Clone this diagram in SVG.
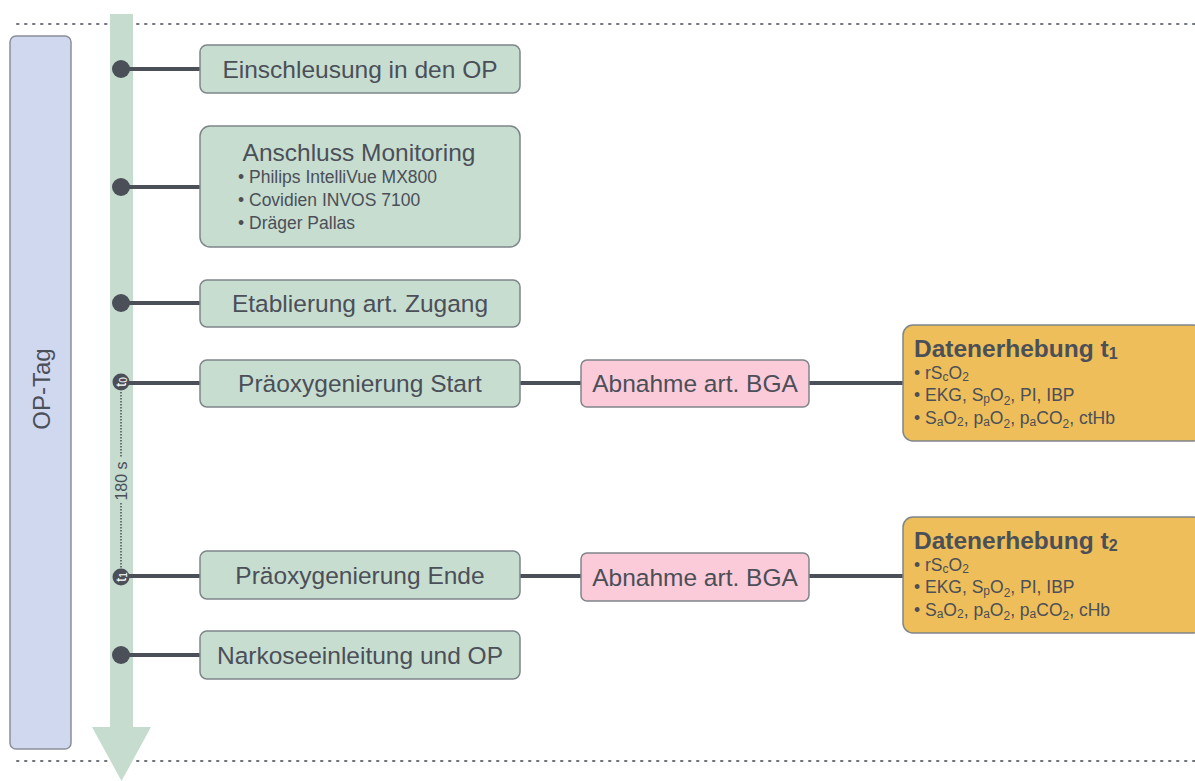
<svg xmlns="http://www.w3.org/2000/svg" width="1195" height="781" viewBox="0 0 1195 781">
<style>
text{font-family:"Liberation Sans",Arial,sans-serif;fill:#4b4f58}
.g{fill:#c7ddd0;stroke:#7d8589;stroke-width:1.5}
.p{fill:#fccbd9;stroke:#7d8589;stroke-width:1.5}
.o{fill:#eebe5a;stroke:#7d8589;stroke-width:1.5}
.t{font-size:24.5px;text-anchor:middle}
.b{font-size:17.5px}
.h{font-size:24.5px;font-weight:bold}
.c{stroke:#4b4f58;stroke-width:4;fill:none}
.dot{fill:#4b4f58}
.s{font-size:12px}
</style>
<line x1="17" y1="24" x2="1195" y2="24" stroke="#6f747c" stroke-width="2" stroke-dasharray="1.5 6.5" stroke-linecap="round"/>
<line x1="17" y1="761" x2="1195" y2="761" stroke="#6f747c" stroke-width="2" stroke-dasharray="1.5 6.5" stroke-linecap="round"/>
<g id="optag">
<rect x="10" y="36" width="61" height="713" rx="6" fill="#d0d8ef" stroke="#8a8f9a" stroke-width="1.5"/>
<text transform="translate(50,389) rotate(-90)" font-size="24" text-anchor="middle">OP-Tag</text>
</g>
<g id="timeline">
<path d="M110,14 H133 V727 H151 L121.5,781 L92,727 H110 Z" fill="#c6dccf"/>
<line x1="121" y1="392" x2="121" y2="458" stroke="#4b4f58" stroke-width="1.5" stroke-dasharray="1.5 1.5"/>
<line x1="121" y1="503" x2="121" y2="568" stroke="#4b4f58" stroke-width="1.5" stroke-dasharray="1.5 1.5"/>
<text transform="translate(126.5,481) rotate(-90)" font-size="16" text-anchor="middle">180 s</text>
</g>
<g id="connectors">
<line class="c" x1="121" y1="69" x2="200" y2="69"/>
<line class="c" x1="121" y1="187" x2="200" y2="187"/>
<line class="c" x1="121" y1="303" x2="200" y2="303"/>
<line class="c" x1="121" y1="383" x2="200" y2="383"/>
<line class="c" x1="121" y1="576" x2="200" y2="576"/>
<line class="c" x1="121" y1="655" x2="200" y2="655"/>
<line class="c" x1="520" y1="383" x2="581" y2="383"/>
<line class="c" x1="809" y1="383" x2="903" y2="383"/>
<line class="c" x1="520" y1="576" x2="581" y2="576"/>
<line class="c" x1="809" y1="576" x2="903" y2="576"/>
<circle class="dot" cx="121" cy="69" r="9"/>
<circle class="dot" cx="121" cy="187" r="9"/>
<circle class="dot" cx="121" cy="303" r="9"/>
<circle class="dot" cx="121" cy="382" r="8.5"/>
<circle class="dot" cx="121" cy="577" r="8.5"/>
<circle class="dot" cx="121" cy="655" r="9"/>
<text transform="translate(125.5,382) rotate(-90)" font-size="14" text-anchor="middle" style="fill:#fff">t<tspan font-size="10" dy="1">0</tspan></text>
<text transform="translate(125.5,577) rotate(-90)" font-size="14" text-anchor="middle" style="fill:#fff">t<tspan font-size="10" dy="1">1</tspan></text>
</g>
<g id="n1"><rect class="g" x="200" y="45" width="320" height="48" rx="7"/><text class="t" x="360" y="78">Einschleusung in den OP</text></g>
<g id="n2"><rect class="g" x="200" y="126" width="320" height="121" rx="10"/>
<text class="t" x="359" y="161">Anschluss Monitoring</text>
<text class="b" x="238" y="183">• Philips IntelliVue MX800</text>
<text class="b" x="238" y="206">• Covidien INVOS 7100</text>
<text class="b" x="238" y="229">• Dräger Pallas</text></g>
<g id="n3"><rect class="g" x="200" y="280" width="320" height="47" rx="7"/><text class="t" x="360" y="312">Etablierung art. Zugang</text></g>
<g id="n4"><rect class="g" x="200" y="360" width="320" height="47" rx="7"/><text class="t" x="360" y="392">Präoxygenierung Start</text></g>
<g id="n5"><rect class="g" x="200" y="551" width="320" height="48" rx="7"/><text class="t" x="360" y="584">Präoxygenierung Ende</text></g>
<g id="n6"><rect class="g" x="200" y="631" width="320" height="48" rx="7"/><text class="t" x="360" y="664">Narkoseeinleitung und OP</text></g>
<g id="p1"><rect class="p" x="581" y="360" width="228" height="47" rx="6"/><text class="t" x="695" y="392">Abnahme art. BGA</text></g>
<g id="p2"><rect class="p" x="581" y="553" width="228" height="48" rx="6"/><text class="t" x="695" y="586">Abnahme art. BGA</text></g>
<g id="d1"><rect class="o" x="903" y="325" width="300" height="116" rx="10"/>
<text class="h" x="914" y="357">Datenerhebung t<tspan font-size="16" dy="2">1</tspan></text>
<text class="b" x="914" y="379">• rS<tspan class="s" dy="2">c</tspan><tspan dy="-2">O</tspan><tspan class="s" dy="2">2</tspan></text>
<text class="b" x="914" y="401">• EKG, S<tspan class="s" dy="2">p</tspan><tspan dy="-2">O</tspan><tspan class="s" dy="4">2</tspan><tspan dy="-4">, PI, IBP</tspan></text>
<text class="b" x="914" y="424">• S<tspan class="s" dy="2">a</tspan><tspan dy="-2">O</tspan><tspan class="s" dy="2">2</tspan><tspan dy="-2">, p</tspan><tspan class="s" dy="2">a</tspan><tspan dy="-2">O</tspan><tspan class="s" dy="4">2</tspan><tspan dy="-4">, p</tspan><tspan class="s" dy="2">a</tspan><tspan dy="-2">CO</tspan><tspan class="s" dy="4">2</tspan><tspan dy="-4">, ctHb</tspan></text></g>
<g id="d2"><rect class="o" x="903" y="517" width="300" height="116" rx="10"/>
<text class="h" x="914" y="549">Datenerhebung t<tspan font-size="16" dy="2">2</tspan></text>
<text class="b" x="914" y="571">• rS<tspan class="s" dy="2">c</tspan><tspan dy="-2">O</tspan><tspan class="s" dy="2">2</tspan></text>
<text class="b" x="914" y="593">• EKG, S<tspan class="s" dy="2">p</tspan><tspan dy="-2">O</tspan><tspan class="s" dy="4">2</tspan><tspan dy="-4">, PI, IBP</tspan></text>
<text class="b" x="914" y="616">• S<tspan class="s" dy="2">a</tspan><tspan dy="-2">O</tspan><tspan class="s" dy="2">2</tspan><tspan dy="-2">, p</tspan><tspan class="s" dy="2">a</tspan><tspan dy="-2">O</tspan><tspan class="s" dy="4">2</tspan><tspan dy="-4">, p</tspan><tspan class="s" dy="2">a</tspan><tspan dy="-2">CO</tspan><tspan class="s" dy="4">2</tspan><tspan dy="-4">, cHb</tspan></text></g>
</svg>
